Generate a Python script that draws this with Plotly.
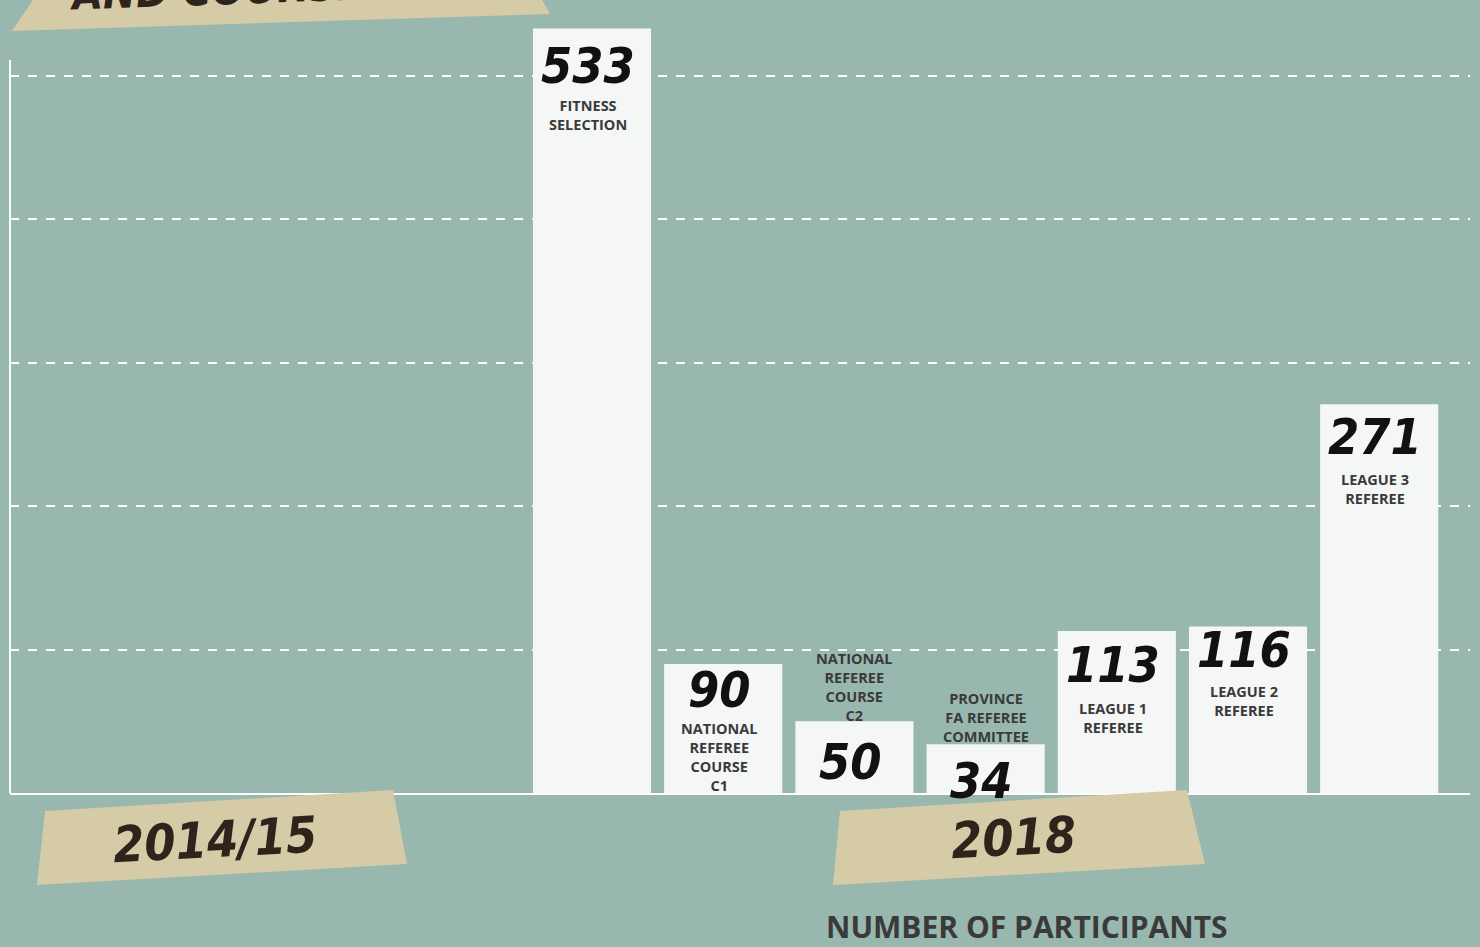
import plotly.graph_objects as go

categories = ["FITNESS<br>SELECTION", "NATIONAL<br>REFEREE<br>COURSE<br>C1", "NATIONAL<br>REFEREE<br>COURSE<br>C2",
              "PROVINCE<br>FA REFEREE<br>COMMITTEE", "LEAGUE 1<br>REFEREE", "LEAGUE 2<br>REFEREE", "LEAGUE 3<br>REFEREE"]
values = [533, 90, 50, 34, 113, 116, 271]
label_above = [False, False, True, True, False, False, False]
y_ticks = [100, 200, 300, 400, 500]
period_labels = ["2014/15", "2018"]
title_text = "NUMBER OF PARTICIPANTS"

# styling offsets (pixels) for the hand-placed labels
num_shift = [-38, -26, -41, -37, -34, -23, -33]
lab_shift = [-66, -53, -6, -4, -66, -53, -64]

W, H = 1480, 947
L, R, T, B = 10, 10, 0, 154
BG = "#98b7ae"
BAR = "#f5f7f6"
TAPE = "#d5cba6"
INK = "#2e241c"
LABEL = "#3a3a3a"
NUMFONT = "DejaVu Sans Condensed, DejaVu Sans"
LABFONT = "Open Sans"

idx = list(range(len(values)))

fig = go.Figure()
fig.add_trace(go.Bar(
    x=idx, y=values, width=0.9, marker=dict(color=BAR, line=dict(width=0)),
    cliponaxis=False, hoverinfo="skip", showlegend=False,
))

annotations = []
for i, (v, lab, above) in enumerate(zip(values, categories, label_above)):
    annotations.append(dict(
        x=i, y=v, xref="x", yref="y", text=f"<b><i>{v}</i></b>", showarrow=False,
        yanchor="middle", yshift=num_shift[i], xshift=-4,
        font=dict(family=NUMFONT, size=50, color="#111111"),
    ))
    annotations.append(dict(
        x=i, y=v, xref="x", yref="y", text=f"<b>{lab}</b>", showarrow=False,
        yanchor="bottom" if above else "top", yshift=lab_shift[i],
        xshift=0 if above else -4,
        font=dict(family=LABFONT, size=14.5, color=LABEL),
    ))

pw = W - L - R
ph = H - T - B


def px(xp):
    return (xp - L) / pw


def py(yp):
    return (H - B - yp) / ph


def quad(pts):
    return "M " + " L ".join(f"{px(a):.5f},{py(b):.5f}" for a, b in pts) + " Z"


shapes = []
tapes = [
    [(45, 811), (393, 790), (407, 864), (37, 885)],
    [(840, 811), (1187, 790), (1205, 864), (833, 885)],
    [(60, -40), (520, -40), (550, 14), (12, 31)],
]
for t in tapes:
    shapes.append(dict(type="path", path=quad(t), xref="paper", yref="paper",
                       fillcolor=TAPE, line=dict(width=0), layer="above"))

# left axis line (starts below top of figure)
shapes.append(dict(type="line", xref="paper", yref="paper", x0=0, x1=0, y0=0, y1=py(60),
                   line=dict(color="white", width=2), layer="above"))

tape_text_pos = [(215, 840), (1013, 838)]
for (tx, ty), lab in zip(tape_text_pos, period_labels):
    annotations.append(dict(
        x=px(tx), y=py(ty), xref="paper", yref="paper", text=f"<b><i>{lab}</i></b>",
        showarrow=False, textangle=-3, xanchor="center", yanchor="middle",
        font=dict(family=NUMFONT, size=50, color=INK),
    ))
annotations.append(dict(
    x=px(230), y=py(-12), xref="paper", yref="paper", text="<b><i>AND COURSES</i></b>",
    showarrow=False, textangle=-2, xanchor="center", yanchor="middle",
    font=dict(family=NUMFONT, size=44, color=INK),
))
annotations.append(dict(
    x=px(1027), y=py(927), xref="paper", yref="paper", text=f"<b>{title_text}</b>",
    showarrow=False, xanchor="center", yanchor="middle",
    font=dict(family=LABFONT, size=30, color=LABEL),
))

fig.update_layout(
    width=W, height=H,
    margin=dict(l=L, r=R, t=T, b=B),
    paper_bgcolor=BG, plot_bgcolor=BG,
    bargap=0.1,
    shapes=shapes, annotations=annotations,
    xaxis=dict(range=[-4.436, 6.692], showgrid=False, zeroline=False, showticklabels=False,
               showline=True, linecolor="white", linewidth=2, ticks=""),
    yaxis=dict(range=[0, 552.8], tickvals=y_ticks, showticklabels=False, showgrid=True,
               gridcolor="white", gridwidth=1.5, griddash="dash", zeroline=False,
               showline=False, ticks=""),
)

fig.write_html("out.html", config={"displayModeBar": False},
               post_script="document.body.style.margin='0';document.body.style.overflow='hidden';")
